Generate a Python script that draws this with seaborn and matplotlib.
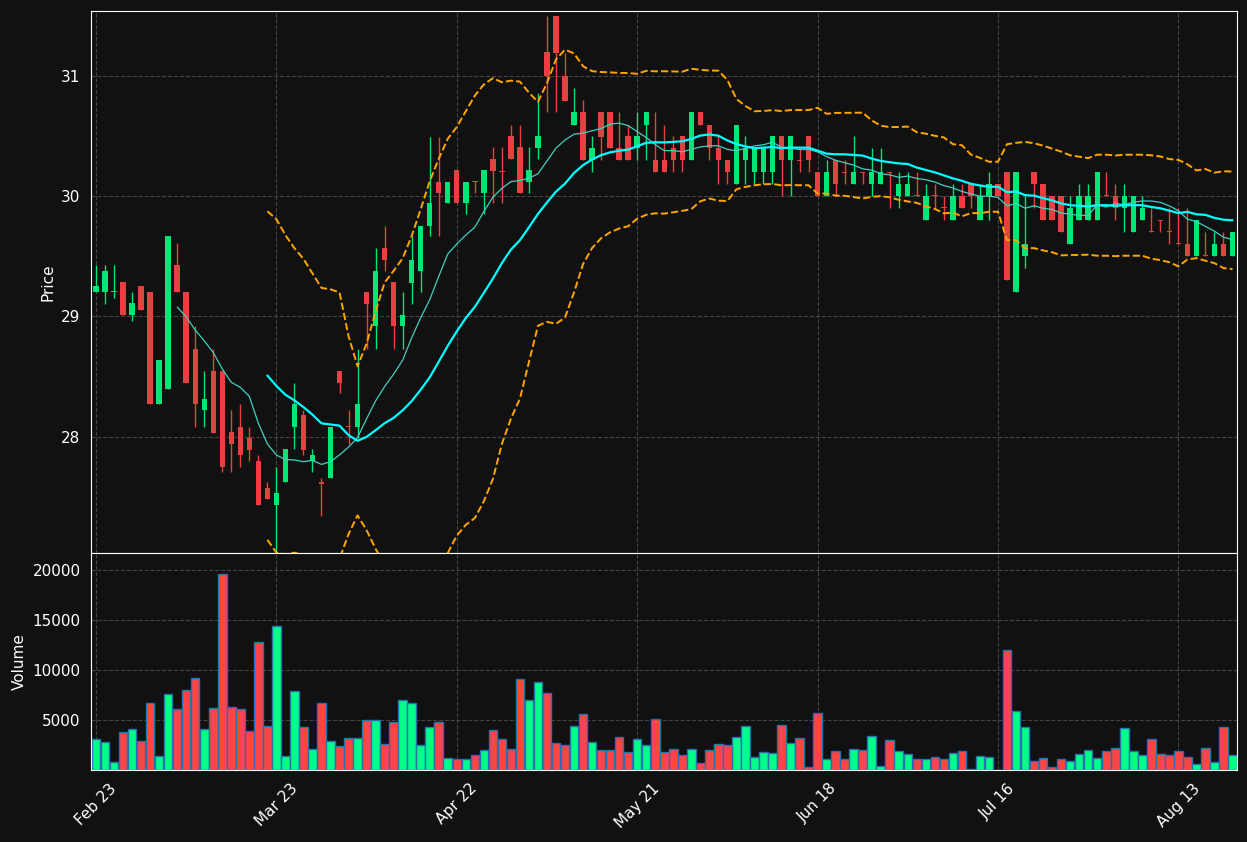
import numpy as np
import pandas as pd
import matplotlib
matplotlib.use("Agg")
import matplotlib.pyplot as plt
import seaborn as sns

# OHLC, one entry per trading day
opens = [29.20, 29.20, 29.20, 29.29, 29.01, 29.25, 29.20, 28.27, 28.40, 29.43,
         29.20, 28.73, 28.22, 28.55, 28.55, 28.04, 28.08, 27.99, 27.80, 27.57,
         27.43, 27.62, 28.08, 28.18, 27.80, 27.62, 27.66, 28.55, 28.09, 28.08,
         29.20, 28.92, 29.57, 29.29, 28.92, 29.28, 29.38, 29.75, 30.12, 29.94,
         30.22, 29.94, 30.13, 30.03, 30.31, 30.21, 30.50, 30.41, 30.12, 30.40,
         31.20, 31.50, 31.00, 30.59, 30.70, 30.30, 30.70, 30.70, 30.40, 30.50,
         30.40, 30.59, 30.30, 30.30, 30.40, 30.50, 30.30, 30.70, 30.59, 30.40,
         30.30, 30.10, 30.30, 30.20, 30.20, 30.20, 30.50, 30.30, 30.30, 30.50,
         30.20, 30.00, 30.30, 30.20, 30.10, 30.20, 30.10, 30.10, 30.20, 30.00,
         30.00, 30.01, 29.80, 30.01, 29.91, 29.80, 30.00, 30.10, 29.80, 30.00,
         30.10, 30.20, 29.20, 29.50, 30.20, 30.10, 30.00, 30.00, 29.60, 29.80,
         29.80, 29.80, 30.01, 30.00, 29.90, 29.70, 29.80, 29.71, 29.80, 29.71,
         29.61, 29.60, 29.50, 29.51, 29.50, 29.60, 29.50]
closes = [29.25, 29.38, 29.20, 29.01, 29.11, 29.05, 28.27, 28.64, 29.67, 29.20,
          28.45, 28.27, 28.31, 28.03, 27.75, 27.94, 27.85, 27.89, 27.43, 27.48,
          27.53, 27.90, 28.27, 27.89, 27.85, 27.61, 28.08, 28.45, 28.08, 28.27,
          29.10, 29.38, 29.47, 28.92, 29.01, 29.47, 29.75, 29.94, 30.03, 30.12,
          29.94, 30.12, 30.12, 30.22, 30.21, 30.20, 30.31, 30.03, 30.22, 30.50,
          31.00, 31.19, 30.79, 30.70, 30.30, 30.40, 30.49, 30.40, 30.30, 30.30,
          30.50, 30.70, 30.20, 30.20, 30.30, 30.30, 30.70, 30.59, 30.40, 30.30,
          30.20, 30.59, 30.40, 30.40, 30.40, 30.50, 30.30, 30.50, 30.29, 30.30,
          30.00, 30.20, 30.10, 30.19, 30.20, 30.19, 30.20, 30.20, 30.19, 30.10,
          30.10, 30.00, 30.00, 30.00, 29.90, 30.00, 29.90, 30.00, 30.00, 30.10,
          30.00, 29.30, 30.20, 29.60, 30.10, 29.80, 29.80, 29.70, 29.90, 30.00,
          30.00, 30.20, 30.00, 29.90, 30.00, 30.00, 29.90, 29.70, 29.79, 29.70,
          29.60, 29.50, 29.80, 29.50, 29.60, 29.50, 29.70]
highs = [29.43, 29.43, 29.43, 29.29, 29.20, 29.25, 29.20, 28.64, 29.67, 29.61,
         29.20, 28.92, 28.55, 28.73, 28.55, 28.22, 28.27, 28.08, 27.85, 27.62,
         27.75, 27.90, 28.45, 28.22, 27.90, 27.66, 28.08, 28.55, 28.22, 28.73,
         29.20, 29.57, 29.75, 29.29, 29.20, 29.67, 29.75, 30.49, 30.49, 30.12,
         30.22, 30.12, 30.13, 30.22, 30.41, 30.41, 30.59, 30.59, 30.41, 30.86,
         31.50, 31.50, 31.19, 30.90, 30.80, 30.50, 30.70, 30.70, 30.70, 30.59,
         30.70, 30.70, 30.70, 30.59, 30.50, 30.50, 30.70, 30.70, 30.59, 30.50,
         30.30, 30.59, 30.50, 30.40, 30.40, 30.50, 30.50, 30.50, 30.40, 30.50,
         30.20, 30.30, 30.30, 30.30, 30.50, 30.20, 30.40, 30.40, 30.20, 30.20,
         30.20, 30.20, 30.10, 30.10, 30.00, 30.10, 30.10, 30.10, 30.10, 30.20,
         30.10, 30.20, 30.20, 30.00, 30.20, 30.10, 30.00, 30.00, 30.00, 30.10,
         30.10, 30.20, 30.20, 30.10, 30.10, 30.00, 30.00, 29.90, 29.80, 29.90,
         29.90, 29.90, 29.80, 29.70, 29.70, 29.70, 29.70]
lows = [29.20, 29.10, 29.15, 29.01, 28.96, 29.05, 28.27, 28.27, 28.40, 29.20,
        28.45, 28.08, 28.08, 28.03, 27.71, 27.71, 27.75, 27.80, 27.43, 27.48,
        27.03, 27.62, 27.90, 27.85, 27.71, 27.34, 27.66, 28.36, 27.94, 27.99,
        28.73, 28.73, 29.38, 28.73, 28.73, 29.10, 29.20, 29.67, 29.67, 29.94,
        29.94, 29.85, 30.03, 29.85, 29.94, 29.94, 30.31, 30.03, 30.03, 30.31,
        30.70, 30.70, 30.79, 30.59, 30.30, 30.20, 30.30, 30.40, 30.30, 30.30,
        30.30, 30.30, 30.20, 30.20, 30.20, 30.20, 30.30, 30.59, 30.30, 30.10,
        30.10, 30.10, 30.10, 30.10, 30.10, 30.10, 30.00, 30.00, 30.20, 30.20,
        30.00, 30.00, 30.00, 30.10, 30.10, 30.10, 30.00, 30.10, 29.90, 29.90,
        30.00, 30.00, 29.80, 29.90, 29.80, 29.80, 29.90, 29.90, 29.80, 29.80,
        30.00, 29.30, 29.20, 29.40, 29.90, 29.80, 29.80, 29.70, 29.60, 29.80,
        29.80, 29.80, 30.00, 29.80, 29.70, 29.70, 29.80, 29.70, 29.70, 29.60,
        29.60, 29.50, 29.50, 29.50, 29.50, 29.50, 29.50]
volumes = [3167, 2833, 833, 3833, 4167, 2967, 6767, 1467, 7667, 6167,
           8067, 9233, 4167, 6267, 19667, 6367, 6167, 3967, 12867, 4467,
           14467, 1467, 7967, 4367, 2167, 6767, 2967, 2467, 3267, 3267,
           5067, 5067, 2667, 4867, 7067, 6767, 2567, 4367, 4867, 1267,
           1167, 1167, 1567, 2067, 4067, 3167, 2167, 9167, 7067, 8867,
           7767, 2767, 2567, 4467, 5667, 2867, 2067, 2067, 3367, 1867,
           3167, 2567, 5167, 1867, 2167, 1567, 2167, 767, 2067, 2667,
           2567, 3367, 4467, 1367, 1867, 1767, 4567, 2767, 3267, 367,
           5767, 1167, 1967, 1167, 2167, 2067, 3467, 467, 3067, 1967,
           1667, 1167, 1167, 1367, 1167, 1767, 1967, 167, 1467, 1367,
           67, 12067, 5967, 4367, 967, 1267, 367, 1167, 967, 1667,
           2067, 1267, 1967, 2267, 4267, 1967, 1567, 3167, 1667, 1567,
           1967, 1367, 667, 2267, 867, 4367, 1567]
tick_labels = ["Feb 23", "Mar 23", "Apr 22", "May 21", "Jun 18", "Jul 16", "Aug 13"]

df = pd.DataFrame({"open": opens, "close": closes, "high": highs,
                   "low": lows, "volume": volumes})
df["idx"] = np.arange(len(df))
df["up"] = df["close"] >= df["open"]
df["ma10"] = df["close"].rolling(10).mean()
df["ma20"] = df["close"].rolling(20).mean()
sd = df["close"].rolling(20).std()
df["upper"] = df["ma20"] + 2 * sd
df["lower"] = df["ma20"] - 2 * sd

bg = "#111111"
sns.set_style("dark", {"axes.facecolor": bg, "figure.facecolor": bg,
                       "axes.edgecolor": "white", "grid.color": "#444444"})
plt.rcParams["font.family"] = ["DejaVu Sans"]

fig, (ax, axv) = plt.subplots(2, 1, figsize=(12.47, 8.42), dpi=100, sharex=True,
                              gridspec_kw={"height_ratios": [2.5, 1], "hspace": 0})
fig.subplots_adjust(left=0.073, right=0.992, top=0.987, bottom=0.085)

up_c, dn_c = "#00e676", "#e84040"
colors = np.where(df["up"], up_c, dn_c)
ax.vlines(df["idx"], df["low"], df["high"], colors=colors, linewidth=1)
body_lo = np.minimum(df["open"], df["close"])
body_h = np.maximum(np.abs(df["close"] - df["open"]), 0.01)
ax.bar(df["idx"], body_h, bottom=body_lo, width=0.6, color=colors, linewidth=0)

sns.lineplot(data=df, x="idx", y="ma10", ax=ax, color="#40d0c0", linewidth=0.9)
sns.lineplot(data=df, x="idx", y="ma20", ax=ax, color="#00ffff", linewidth=1.6)
sns.lineplot(data=df, x="idx", y="upper", ax=ax, color="orange", linewidth=1.4, linestyle="--")
sns.lineplot(data=df, x="idx", y="lower", ax=ax, color="orange", linewidth=1.4, linestyle="--")

vcol = np.where(df["up"], "#00ff88", "#ff4444")
axv.bar(df["idx"], df["volume"], width=0.95, color=vcol, edgecolor="#2a6fb0", linewidth=1)

ax.set_ylim(27.03, 31.54)
ax.set_yticks([28, 29, 30, 31])
ax.set_ylabel("Price", color="white", fontsize=11)
ax.set_xlabel("")
axv.set_ylim(0, 21700)
axv.set_yticks([5000, 10000, 15000, 20000])
axv.set_ylabel("Volume", color="white", fontsize=11)
axv.set_xlim(-0.55, 126.5)
axv.set_xticks(np.arange(0, 121, 20))
axv.set_xticklabels(tick_labels, rotation=45)
axv.set_xlabel("")

for a in (ax, axv):
    a.grid(True, linestyle="--", color="#444444", linewidth=0.8)
    a.tick_params(colors="white", labelsize=11, length=4)
    for s in a.spines.values():
        s.set_color("white")

plt.savefig("out.png", facecolor=bg)
